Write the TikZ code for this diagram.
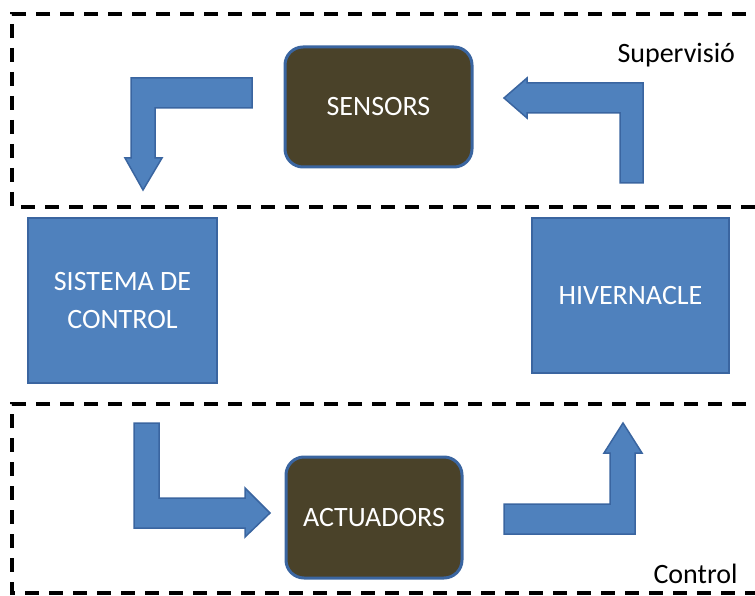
\documentclass[tikz,border=0pt]{standalone}
\usepackage{fontspec}
\setmainfont{Carlito}
\definecolor{boxblue}{HTML}{4F81BD}
\definecolor{edgeblue}{HTML}{3A65A0}
\definecolor{darkolive}{HTML}{4A4229}

\begin{document}
\begin{tikzpicture}[x=1pt,y=-1pt,
	bluebox/.style={draw=edgeblue,line width=2pt,fill=boxblue,text=white,inner sep=0pt,align=center,font=\fontsize{28}{38}\selectfont},
	darkbox/.style={draw=edgeblue,line width=3pt,fill=darkolive,text=white,inner sep=0pt,rounded corners=18pt,font=\fontsize{28}{38}\selectfont},
	blockarrow/.style={draw=edgeblue,line width=1.5pt,fill=boxblue,line join=miter},
	zone/.style={line width=3.5pt,dash pattern=on 14pt off 10pt}]

\clip (0,0) rectangle (755,596);

%	zones
\draw[zone] (770,14) -- (12,14) -- (12,207) -- (770,207);
\draw[zone] (770,404) -- (12,404) -- (12,593) -- (770,593);

\node[anchor=base west,font=\fontsize{28}{34}\selectfont] (supervisio) at (614,63) {Supervisió};
\node[anchor=base west,font=\fontsize{28}{34}\selectfont] (control) at (650,583) {Control};

%	blocks
\node[darkbox,minimum width=187pt,minimum height=120pt] (sensors) at (378.5,107) {SENSORS};
\node[bluebox,minimum width=189pt,minimum height=165pt] (sistema) at (122.5,300.5) {SISTEMA DE\\CONTROL};
\node[bluebox,minimum width=197pt,minimum height=155pt] (hivernacle) at (630.5,295.5) {HIVERNACLE};
\node[darkbox,minimum width=176pt,minimum height=121pt] (actuadors) at (374,517.5) {ACTUADORS};

%	block arrows
\draw[blockarrow] (252,78) -- (131,78) -- (131,158) -- (125,158) -- (143,190) -- (162,158) -- (155,158) -- (155,108) -- (252,108) -- cycle;
\draw[blockarrow] (643,183) -- (643,83) -- (527,83) -- (527,78) -- (504,98) -- (527,118) -- (527,113) -- (620,113) -- (620,183) -- cycle;
\draw[blockarrow] (134,423) -- (159,423) -- (159,498) -- (245,498) -- (245,488) -- (270,513) -- (245,537) -- (245,528) -- (134,528) -- cycle;
\draw[blockarrow] (504,504) -- (610,504) -- (610,453) -- (604,453) -- (623,423) -- (642,453) -- (635,453) -- (635,534) -- (504,534) -- cycle;

\end{tikzpicture}
\end{document}
